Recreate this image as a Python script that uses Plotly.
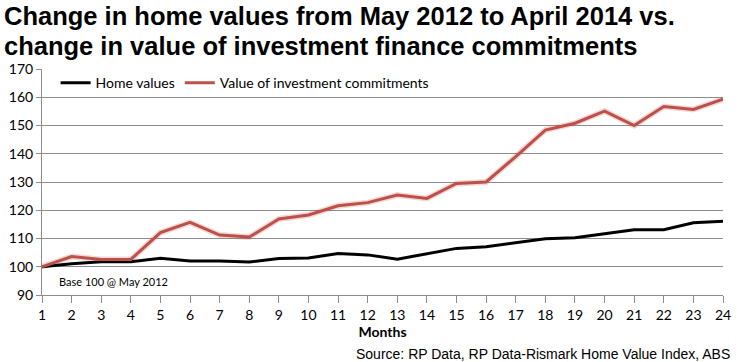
import plotly.graph_objects as go

months = list(range(1, 25))
home_values = [100, 101.1, 101.8, 101.8, 103.0, 102.0, 102.0, 101.7, 102.9, 103.1,
               104.7, 104.2, 102.7, 104.7, 106.5, 107.1, 108.5, 109.9, 110.3, 111.8,
               113.1, 113.1, 115.6, 116.1]
investment = [100, 103.6, 102.6, 102.6, 112.1, 115.7, 111.2, 110.5, 116.9, 118.3,
              121.6, 122.7, 125.4, 124.2, 129.5, 130.0, 139.0, 148.4, 150.8, 155.1,
              150.0, 156.7, 155.7, 159.3]
y_ticks = [90, 100, 110, 120, 130, 140, 150, 160, 170]
title_lines = ["Change in home values from May 2012 to April 2014 vs.",
               "change in value of investment finance commitments"]

CAL = "Lato, Carlito, Calibri, sans-serif"
ARIAL = "Liberation Sans, Arial, sans-serif"
TICK_FONT = dict(family=CAL, size=14, color="#000")

fig = go.Figure()
fig.add_trace(go.Scatter(x=months, y=investment, mode="lines",
                         line=dict(color="rgba(192,80,77,0.22)", width=6),
                         showlegend=False, hoverinfo="skip"))
fig.add_trace(go.Scatter(x=months, y=home_values, mode="lines", name="Home values",
                         line=dict(color="#000000", width=3)))
fig.add_trace(go.Scatter(x=months, y=investment, mode="lines",
                         name="Value of investment commitments",
                         line=dict(color="#BD5049", width=3)))

fig.update_layout(
    width=740, height=362,
    margin=dict(l=42, r=9, t=69, b=67),
    paper_bgcolor="white", plot_bgcolor="white",
    legend=dict(orientation="h", x=0.02, y=1.008, xanchor="left", yanchor="top",
                font=dict(family=CAL, size=14, color="#000"),
                bgcolor="rgba(0,0,0,0)", traceorder="normal"),
    showlegend=True,
)
fig.update_xaxes(range=[1, 24], tickvals=months, ticktext=[str(m) for m in months],
                 showgrid=False, zeroline=False, showline=True, linecolor="#8c8c8c",
                 linewidth=1, ticks="outside", ticklen=7, tickcolor="#8c8c8c",
                 tickfont=TICK_FONT,
                 title=dict(text="<b>Months</b>", font=dict(family=CAL, size=14, color="#000"), standoff=0))
fig.update_yaxes(range=[90, 170], tickvals=y_ticks, showgrid=True, gridcolor="#8c8c8c",
                 gridwidth=1, zeroline=False, showline=True, linecolor="#8c8c8c",
                 ticks="outside", ticklen=5, tickcolor="#8c8c8c", tickfont=TICK_FONT)

for line, yc in zip(title_lines, [16, 46]):
    fig.add_annotation(text="<b>" + line + "</b>", xref="paper", yref="paper",
                       x=-40 / 689, y=(295 - yc) / 226, xanchor="left", yanchor="middle",
                       showarrow=False, font=dict(family=ARIAL, size=25.5, color="#000"))

fig.add_annotation(text="Base 100 @ May 2012", xref="paper", yref="paper",
                   x=(57 - 42) / 689, y=(295 - 281) / 226, xanchor="left", yanchor="middle",
                   showarrow=False, font=dict(family=CAL, size=11, color="#000"))
fig.add_annotation(text="Source: RP Data, RP Data-Rismark Home Value Index, ABS",
                   xref="paper", yref="paper", x=(740 - 42) / 689, y=-(354 - 295) / 226,
                   xanchor="right", yanchor="middle", showarrow=False,
                   font=dict(family=ARIAL, size=14.0, color="#000"))

fig.write_html("out.html", config={"displayModeBar": False},
               post_script="document.body.style.margin='0';document.body.style.overflow='hidden';")
